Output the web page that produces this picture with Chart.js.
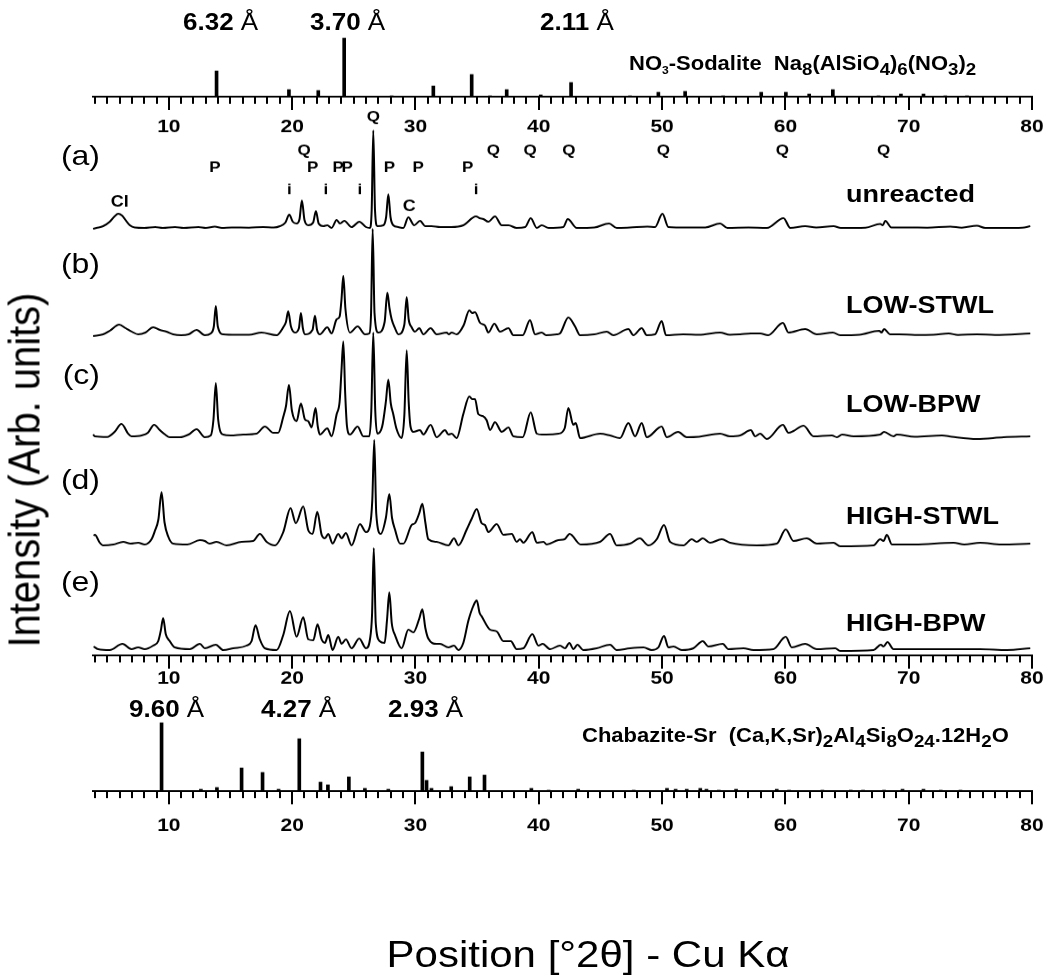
<!DOCTYPE html>
<html>
<head>
<meta charset="utf-8">
<script src="https://cdn.jsdelivr.net/npm/chart.js@4.4.1/dist/chart.umd.min.js"></script>
<style>
  html, body { margin: 0; padding: 0; background: #fff; width: 1052px; height: 979px; overflow: hidden; }
  /* the figure is laid out on a 1052 x 1104 sheet and shown compressed to 979 px in height */
  #page { position: absolute; left: 0; top: 0; width: 1052px; height: 1104px; overflow: hidden;
          transform: scaleY(0.8868); transform-origin: 0 0;
          font-family: "Liberation Sans", Arial, sans-serif; color: #000; background: #fff; }
  canvas { position: absolute; left: 0; }
  .t { position: absolute; white-space: nowrap; line-height: 1; }
  .b { font-weight: bold; }
  .n { font-weight: normal; }
  sub { font-size: 85%; vertical-align: -0.3em; line-height: 0; }
  sub.s { font-size: 55%; vertical-align: -0.35em; }
</style>
</head>
<body>
<div id="page">
  <canvas id="sodaliteChart" width="1052" height="160" style="top:0px"></canvas>
  <canvas id="mainChart" width="1052" height="800" style="top:0px"></canvas>
  <canvas id="chabaziteChart" width="1052" height="344" style="top:760px"></canvas>

  <div class="t b" style="left:183px;top:12px;font-size:26px">6.32<span class="n"> Å</span></div>
  <div class="t b" style="left:310px;top:12px;font-size:26px">3.70<span class="n"> Å</span></div>
  <div class="t b" style="left:540px;top:12px;font-size:26px">2.11<span class="n"> Å</span></div>
  <div class="t b" style="left:629px;top:61px;font-size:22px">NO<sub class="s">3</sub>-Sodalite&nbsp; Na<sub>8</sub>(AlSiO<sub>4</sub>)<sub>6</sub>(NO<sub>3</sub>)<sub>2</sub></div>

  <div class="t b" style="left:129px;top:786px;font-size:26px">9.60<span class="n"> Å</span></div>
  <div class="t b" style="left:261px;top:786px;font-size:26px">4.27<span class="n"> Å</span></div>
  <div class="t b" style="left:388px;top:786px;font-size:26px">2.93<span class="n"> Å</span></div>
  <div class="t b" style="left:582px;top:819px;font-size:22px">Chabazite-Sr&nbsp; (Ca,K,Sr)<sub>2</sub>Al<sub>4</sub>Si<sub>8</sub>O<sub>24</sub>.12H<sub>2</sub>O</div>

  <div id="sampleLabels"></div>

  <div class="t" style="left:24px;top:530px;font-size:45px;transform:translate(-50%,-50%) rotate(-90deg);">Intensity (Arb. units)</div>
  <div class="t" style="left:588px;top:1077px;font-size:42px;transform:translate(-50%,-50%);">Position [°2θ] - Cu Kα</div>
</div>

<script>
// ---- axis ----
const xMin = 3.85, xMax = 80;
const majorTicks = [10, 20, 30, 40, 50, 60, 70, 80];

// ---- reference patterns: [2θ, relative intensity] ----
const sodalitePeaks = [[13.87,29],[19.74,8],[22.12,7],[24.22,66],[28.07,1],[31.45,12],[34.56,25],[36.05,1],
  [37.4,8],[40.16,2],[42.62,16],[47.4,1],[49.7,5],[51.87,6],[54.95,1],[58.04,5],[60.04,5],[61.93,3],
  [63.85,8],[67.55,1],[69.37,3],[71.2,3],[72.97,1],[74.73,1]];

const chabazitePeaks = [[9.41,77],[12.6,2],[13.9,4],[15.9,26],[17.6,21],[18.9,2],[20.58,59],[22.3,10],[22.9,7],
  [24.6,16],[25.9,3],[27.8,2],[30.56,44],[30.9,12],[31.3,3],[32.9,5],[34.4,16],[35.6,18],[39.4,3],[40.8,1],
  [43.2,2],[47.7,1],[50.4,3],[51.1,2],[52.0,2],[53.1,3],[53.6,2],[54.6,1],[56.0,2],[59.3,2],[60.3,1],
  [63.0,1],[65.3,1],[66.3,1],[68.0,1],[69.5,2],[71.2,2],[72.6,1],[74.2,1]];

// ---- measured scans: [2θ, counts above background] ----
const unreacted = [[3.86,-1],[4.13,0],[4.67,2],[5.21,7],[5.6,13],[5.89,16],[6.2,14],[6.43,10],[6.84,3],[7.24,0.5],
  [8.0,0],[8.9,1],[9.5,0],[10.5,1],[11.2,0],[12.4,1],[13.0,0],[13.73,1.5],[14.3,0],[15.1,0.5],[16.5,0.3],[17.65,1],
  [18.5,0.5],[19.01,2],[19.45,6],[19.77,15],[20.05,7],[20.36,5],[20.6,10],[20.79,31],[21.0,9],[21.31,3],[21.7,6],
  [21.93,19],[22.15,5],[22.52,2],[22.85,3],[23.2,0],[23.61,9],[23.88,5],[24.23,8],[24.82,1],[25.45,7],[25.99,1],
  [26.3,0],[26.45,20],[26.58,110],[26.72,20],[26.91,2],[27.4,3],[27.62,12],[27.8,38],[27.98,12],[28.2,3],[28.6,1],
  [29.02,0],[29.42,12],[29.9,3],[30.37,8],[30.8,2],[31.3,2],[32.0,1],[32.9,1],[33.88,3],[34.91,13],[35.2,11],
  [35.51,10],[35.91,7],[36.45,13],[37.0,3],[37.54,3],[38.21,0],[38.9,1],[39.35,11],[39.84,0],[40.24,3],[40.8,0],
  [41.99,1],[42.35,10],[43.08,0],[44.5,0.5],[45.7,5],[46.32,0],[47.4,0.5],[48.8,1.5],[49.43,1],[50.03,16],[50.51,1],
  [52,0.5],[53.5,0.5],[54.7,5],[55.3,0],[57,0.5],[58.5,0],[59.85,11],[60.4,0],[61.6,2],[62.5,0.5],[63.9,2],[64.5,0],
  [66.5,0.3],[67.69,4.5],[67.9,3],[68.1,8],[68.6,0.5],[70,0.5],[71.5,0.3],[73.37,1.5],[74.3,0.3],[75.53,2.5],
  [76.2,0],[77.7,0],[79.2,0.3],[79.86,2]];

const lowSTWL = [[3.86,-1],[4.67,1],[5.21,5],[5.97,12],[6.5,8],[7.0,4],[7.51,1],[8.1,3],[8.73,9],[9.27,6],[9.81,4],
  [10.35,1],[11.0,0],[11.6,1],[12.25,6],[12.92,0],[13.4,2],[13.65,10],[13.81,33],[13.97,10],[14.41,1],[15.5,0.5],
  [16.5,0.5],[17.52,3],[18.74,0],[19.28,9],[19.5,15],[19.68,27],[19.9,10],[20.23,3],[20.55,8],[20.71,25],[20.87,8],
  [21.04,1],[21.65,6],[21.85,22],[22.02,6],[22.25,1],[22.85,9],[23.2,2],[23.61,18],[23.85,21],[24.0,40],[24.15,67],
  [24.32,30],[24.69,3],[25.31,10],[25.91,1],[26.26,2],[26.4,25],[26.53,120],[26.68,25],[26.99,3],[27.5,15],
  [27.72,48],[27.9,30],[28.07,18],[28.34,8],[28.61,1],[29.1,12],[29.29,43],[29.45,18],[29.69,9],[29.96,4],
  [30.31,8],[30.64,1],[31.23,8],[31.72,1],[32.53,3],[32.7,1],[32.94,3],[33.34,1],[33.9,11],[34.37,28],[34.6,25],
  [34.83,26],[35.24,14],[35.64,11],[35.91,3],[36.4,13],[36.86,4],[37.54,8],[37.94,0],[38.7,0],[39.29,17],[39.7,1],
  [40.24,3],[40.6,0],[41.46,1],[41.72,2],[42.4,20],[42.94,10],[43.35,0],[44.5,1],[45.51,4],[46.05,0],[47.27,7],
  [47.67,0],[48.35,8],[48.76,0],[49.43,1],[49.97,16],[50.32,0],[51.7,1],[53,0.5],[54.7,3],[55.5,0.5],[56.33,1],
  [57.2,2],[57.95,2],[58.6,0],[59.8,14],[60.25,3],[61.6,7],[62.55,1],[63.85,3],[64.44,0],[66,0.5],[67.6,5],[67.8,3],
  [68.0,7],[68.5,1],[69.2,1],[70.5,0.3],[72.0,0.5],[73.24,2],[74,0.3],[75.53,1],[77,0.3],[79.86,2]];

const lowBPW = [[3.86,3],[4.0,1],[5.0,0.3],[5.6,6],[6.16,15],[6.7,4],[6.97,1],[7.8,2],[8.3,5],[8.81,14],[9.27,8],
  [9.7,3],[10.08,0],[10.9,0],[11.6,3],[12.25,9],[12.92,0],[13.4,2],[13.62,20],[13.81,61],[14.0,20],[14.41,3],
  [15.0,2],[16.03,3],[17.11,4],[17.79,12],[18.47,5],[18.87,5],[19.28,23],[19.5,35],[19.74,59],[19.98,30],[20.36,18],
  [20.71,38],[21.04,20],[21.31,18],[21.58,11],[21.9,33],[22.08,12],[22.25,3],[22.85,10],[23.2,1],[23.61,26],
  [23.85,40],[24.0,75],[24.15,108],[24.3,50],[24.45,12],[24.69,3],[25.31,12],[25.77,1],[26.26,1],[26.42,30],
  [26.58,118],[26.74,30],[26.91,4],[27.3,12],[27.6,40],[27.8,65],[28.0,38],[28.2,26],[28.45,10],[28.88,-1],
  [29.1,25],[29.29,98],[29.45,40],[29.6,12],[29.83,6],[30.37,8],[30.64,3],[31.23,14],[31.72,0],[32.4,8],[32.67,3],
  [32.94,4],[33.34,-1],[33.88,26],[34.37,46],[34.6,43],[34.83,43],[35.1,26],[35.45,24],[35.78,19],[36.05,8],
  [36.45,17],[37.0,6],[37.54,11],[37.94,1],[38.7,0],[39.35,28],[39.84,4],[40.24,3],[40.6,3],[41.6,4],[42.1,10],
  [42.4,33],[42.8,14],[43.0,16],[43.35,-1],[44.97,4],[45.78,2],[46.59,-1],[47.27,16],[47.81,1],[48.35,16],[48.76,0],
  [49.97,12],[50.38,0],[51.3,6],[52.0,0],[53.0,0.5],[54.7,4],[55.5,1],[56.33,2],[57.2,8],[57.55,1],[57.95,4],
  [58.5,-2],[59.8,14],[60.25,5],[60.66,7],[61.47,13],[62.28,1],[63.77,2],[64.18,0],[64.6,3],[65.53,1],[67.69,3],
  [68.0,6],[68.77,1],[69.04,3],[70.5,0.5],[72.7,2],[73.5,0.5],[75.53,-2],[77.7,0],[79.86,1]];

const highSTWL = [[3.9,10],[4.0,11],[4.4,2],[4.67,-1],[5.5,0],[6.3,3],[6.9,1],[7.51,2],[8.05,0],[8.6,6],[8.86,15],
  [9.15,28],[9.41,59],[9.65,25],[9.95,9],[10.35,1],[11.5,0],[12.52,5],[12.92,4],[13.3,1],[13.87,3],[14.68,-1],
  [15.9,3],[16.84,4],[17.38,12],[17.93,3],[18.6,-1],[19.28,14],[19.87,41],[20.3,24],[20.9,43],[21.31,16],[21.66,12],
  [22.04,37],[22.39,11],[22.66,7],[22.93,12],[23.28,1],[23.74,12],[24.01,7],[24.36,13],[24.82,-1],[25.5,23],
  [25.99,14],[26.31,21],[26.5,50],[26.66,118],[26.82,35],[27.18,12],[27.6,30],[27.88,57],[28.1,30],[28.34,17],
  [28.75,1],[29.02,1],[29.69,22],[29.96,24],[30.3,35],[30.56,46],[30.8,25],[31.04,6],[31.72,3],[32.67,-1],[33.13,7],
  [33.48,-1],[34.16,17],[34.56,29],[34.97,40],[35.37,24],[35.64,22],[35.91,14],[36.59,23],[37.13,11],[37.81,12],
  [38.21,3],[38.48,6],[38.75,2],[39.48,14],[39.84,2],[40.38,3],[40.65,0],[41.59,5],[42.1,6],[42.5,12],[43.4,0],
  [44.97,3],[45.78,12],[46.32,-1],[47.4,1],[48.2,7],[48.89,-1],[49.57,6],[50.16,22],[50.65,3],[51.73,-1],[52.41,6],
  [52.81,3],[53.3,7],[53.89,2],[54.84,6],[55.52,2],[57.68,-1],[59.3,1],[60.03,17],[60.66,4],[61.74,7],[62.55,1],
  [63.9,2],[64.44,-2],[67.15,-1],[67.69,6],[67.96,4],[68.23,11],[68.64,0],[70.5,0],[73.64,2],[74.5,0],[75.8,2],
  [77.5,0],[79.86,1]];

const highBPW = [[3.9,4],[4.27,1],[5.21,0],[6.24,7],[6.97,1],[7.51,3],[8.05,1],[8.73,5],[9.14,10],[9.35,22],
  [9.54,36],[9.75,18],[10.08,10],[10.49,3],[11.7,1],[12.52,7],[12.92,2],[13.81,6],[14.41,0],[15.22,2],[16.3,5],
  [16.71,10],[17.03,28],[17.38,12],[17.79,2],[18.74,0],[19.28,17],[19.82,44],[20.36,15],[20.9,37],[21.31,12],
  [21.71,11],[22.06,29],[22.39,12],[22.66,8],[22.93,17],[23.28,0],[23.74,15],[24.01,7],[24.36,12],[24.82,2],
  [25.44,13],[25.99,2],[26.31,12],[26.48,40],[26.62,115],[26.78,30],[27.1,10],[27.5,8],[27.7,35],[27.88,65],
  [28.08,30],[28.34,17],[28.88,2],[29.42,23],[29.83,20],[30.3,35],[30.56,46],[30.8,25],[31.04,13],[31.72,7],
  [31.99,7],[32.67,3],[33.13,5],[33.48,0],[33.88,8],[34.29,33],[34.7,50],[34.97,56],[35.2,42],[35.37,38],[36.05,23],
  [36.59,21],[37.13,10],[37.73,10],[38.21,1],[38.75,2],[39.48,18],[39.97,5],[40.32,7],[40.92,1],[41.72,5],[42.13,2],
  [42.48,8],[42.81,1],[43.13,6],[43.62,0],[44.7,2],[45.78,6],[46.32,0],[47.4,2],[48.49,3],[49.16,0],[49.7,3],
  [50.16,16],[50.51,3],[50.92,4],[51.6,0],[52.54,2],[53.3,10],[53.76,4],[54.92,7],[55.38,1],[56.6,2],[57.41,0],
  [59.03,1],[60.03,15],[60.52,3],[61.6,7],[62.55,1],[64.04,2],[64.44,-1],[67.15,0],[67.74,6],[67.96,4],[68.28,9],
  [68.77,1],[71.4,1],[73.64,1],[75.8,1],[77.97,0],[79.86,2]];

const sampleNames = ['unreacted', 'LOW-STWL', 'LOW-BPW', 'HIGH-STWL', 'HIGH-BPW'];
const panelLetters = ['(a)', '(b)', '(c)', '(d)', '(e)'];
const scans = [unreacted, lowSTWL, lowBPW, highSTWL, highBPW];
// vertical stacking offset of each scan (same units as the counts)
const stackOffset = [482, 361, 246, 125, 6];

// phase identifications on the unreacted scan: [symbol, 2θ, row]
const phaseMarks = [
  ['Q',26.58,0],['Q',20.98,1],['Q',36.32,1],['Q',39.3,1],['Q',42.45,1],['Q',50.11,1],['Q',59.76,1],['Q',67.96,1],
  ['P',13.73,2],['P',21.66,2],['P',23.74,2],['P',24.47,2],['P',27.88,2],['P',30.23,2],['P',34.23,2],
  ['i',19.77,3],['i',22.74,3],['i',25.5,3],['i',34.91,3],
  ['Cl',6.02,4],['C',29.5,5]
];

// ---- layout helpers ----
const rowLevel = [607, 569, 550, 525, 511, 506];
const FONT = '"Liberation Sans", Arial, sans-serif';

const tickMarks = {
  id: 'tickMarks',
  afterDraw(chart) {
    const sx = chart.scales.x, ctx = chart.ctx, y0 = sx.top;
    ctx.save();
    ctx.strokeStyle = '#000';
    ctx.lineWidth = 2;
    ctx.beginPath();
    for (let v = 4; v <= 80; v++) {
      const px = Math.round(sx.getPixelForValue(v));
      const len = majorTicks.includes(v) ? 15 : 8;
      ctx.moveTo(px, y0);
      ctx.lineTo(px, y0 + len);
    }
    ctx.stroke();
    ctx.restore();
  }
};

const phaseLabels = {
  id: 'phaseLabels',
  afterDraw(chart) {
    const { ctx, scales: { x, y } } = chart;
    ctx.save();
    ctx.fillStyle = '#000';
    ctx.textAlign = 'center';
    ctx.textBaseline = 'middle';
    phaseMarks.forEach(([txt, deg, row]) => {
      ctx.font = `bold ${txt === 'Cl' || txt === 'C' ? 18 : 17}px ${FONT}`;
      ctx.fillText(txt, x.getPixelForValue(deg), y.getPixelForValue(rowLevel[row]));
    });
    ctx.restore();
  }
};

function xAxis(axisHeight, padding) {
  return {
    type: 'linear', min: xMin, max: xMax, offset: false,
    afterBuildTicks: s => { s.ticks = majorTicks.map(v => ({ value: v })); },
    afterFit: s => { s.height = axisHeight; s.paddingLeft = 0; s.paddingRight = 0; },
    grid: { display: false, drawTicks: false },
    border: { display: true, color: '#000', width: 2 },
    ticks: { color: '#000', padding, maxRotation: 0, autoSkip: false,
             font: { family: FONT, size: 21, weight: 'bold' } }
  };
}

function baseOptions(padTop, axisHeight, tickPad, yMax) {
  return {
    responsive: false, animation: false, events: [],
    layout: { padding: { left: 93, right: 20, top: padTop, bottom: 0 } },
    plugins: { legend: { display: false }, tooltip: { enabled: false } },
    scales: { x: xAxis(axisHeight, tickPad), y: { display: false, min: 0, max: yMax } }
  };
}

function stickChart(id, peaks, padTop, axisHeight, tickPad, yMax) {
  return new Chart(document.getElementById(id), {
    type: 'bar',
    data: { datasets: [{ data: peaks.map(([x, y]) => ({ x, y })), backgroundColor: '#000',
                         barThickness: 3, borderWidth: 0 }] },
    options: baseOptions(padTop, axisHeight, tickPad, yMax),
    plugins: [tickMarks]
  });
}

stickChart('sodaliteChart', sodalitePeaks, 39, 51, 22, 70);
// chabazite panel: plot area 790..892 on the sheet
stickChart('chabaziteChart', chabazitePeaks, 30, 212, 27, 102);

new Chart(document.getElementById('mainChart'), {
  type: 'line',
  data: {
    datasets: scans.map((scan, i) => ({
      label: sampleNames[i],
      data: scan.map(([x, y]) => ({ x, y: y + stackOffset[i] })),
      borderColor: '#000', borderWidth: 2, pointRadius: 0, fill: false,
      cubicInterpolationMode: 'monotone', clip: false
    }))
  },
  options: baseOptions(139, 61, 14, 600),
  plugins: [tickMarks, phaseLabels]
});

// sample names and panel letters next to each scan
const nameY = [220, 345, 457, 583, 703];
const letterY = [175, 297, 422, 540, 655];
const holder = document.getElementById('sampleLabels');
sampleNames.forEach((name, i) => {
  const n = document.createElement('div');
  n.className = 't b';
  n.style.cssText = `left:846px;top:${nameY[i] - 14}px;font-size:27px;`;
  n.textContent = name;
  holder.appendChild(n);
  const l = document.createElement('div');
  l.className = 't';
  l.style.cssText = `right:${1052 - 100}px;top:${letterY[i] - 16}px;font-size:32px;`;
  l.textContent = panelLetters[i];
  holder.appendChild(l);
});
</script>
</body>
</html>
